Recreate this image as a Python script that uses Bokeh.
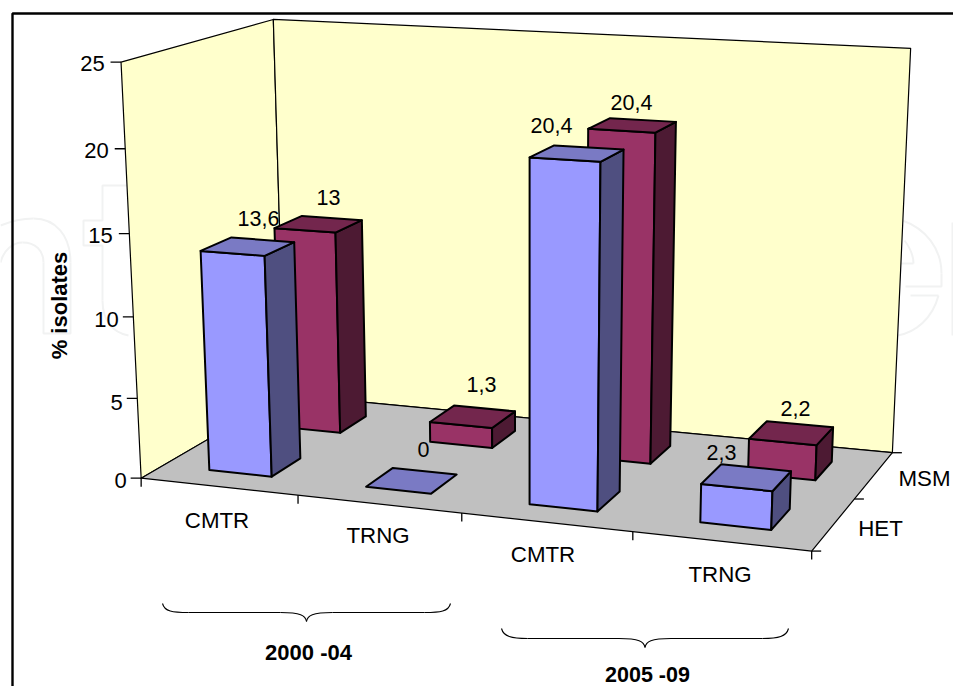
import numpy as np
from bokeh.plotting import figure
from bokeh.models import Range1d
from bokeh.core.properties import value
from bokeh.embed import file_html
from bokeh.resources import INLINE

categories = ["CMTR", "TRNG", "CMTR", "TRNG"]
periods = ["2000 -04", "2005 -09"]
series_names = ["HET", "MSM"]
het = [13.6, 0, 20.4, 2.3]
msm = [13, 1.3, 20.4, 2.2]
y_ticks = [0, 5, 10, 15, 20, 25]
y_title = "% isolates"

BLUE = ("#9999FF", "#7A7AC4", "#4F4F80")
RED = ("#993366", "#73264D", "#4D1A33")

# camera: calibration of the 3-D box (category, value, series) against the page
calib = [((0,0,0),(142,477)),((4,0,0),(810,551)),((4,0,2),(892,452)),((0,0,2),(283,394)),
         ((0,25,0),(120.5,61)),((0,25,2),(273.5,19.5)),((4,25,2),(910,48)),((0,5,0),(137,399)),
         ((0,10,0),(133,316)),((0,15,0),(128,233)),((0,20,0),(124.5,148)),((1,0,0),(297,495)),
         ((2,0,0),(462,513)),((3,0,0),(632,531)),((4,0,1),(855,498))]
A, b = [], []
for (x, y, z), (u, v) in calib:
    A.append([x,y,z,1,0,0,0,0,-u*x,-u*y,-u*z]); b.append(u)
    A.append([0,0,0,0,x,y,z,1,-v*x,-v*y,-v*z]); b.append(v)
P = np.append(np.linalg.lstsq(np.array(A,float), np.array(b,float), rcond=None)[0], 1).reshape(3,4)

def pr(x, y, z):
    h = P @ np.array([x, y, z, 1.0])
    return h[0]/h[2], h[1]/h[2]

p = figure(width=953, height=686, x_range=Range1d(0,953), y_range=Range1d(686,0),
           output_backend="svg", toolbar_location=None, min_border=0)
p.axis.visible = False
p.grid.visible = False
p.outline_line_color = None
p.background_fill_color = "white"

def poly(pts, fill, lc="black", lw=2.0):
    p.patch([q[0] for q in pts], [q[1] for q in pts], fill_color=fill, line_color=lc, line_width=lw, line_join="round")

def seg(a, b, lw=1.3):
    p.line([a[0], b[0]], [a[1], b[1]], line_color="black", line_width=lw)

# faint watermark letters behind the chart
WM = "#F1F2F2"
def wm_line(xs, ys):
    p.line(xs, ys, line_color=WM, line_width=2)
def wm_curve(a, c0, c1, e):
    p.bezier(x0=[a[0]], y0=[a[1]], x1=[e[0]], y1=[e[1]], cx0=[c0[0]], cy0=[c0[1]], cx1=[c1[0]], cy1=[c1[1]],
             line_color=WM, line_width=2)
wm_curve((0,225), (12,220), (22,218), (33,218))
wm_curve((33,218), (55,218), (70,235), (70,262))
wm_line([70,70,43,43], [262,333,333,262])
wm_curve((43,262), (43,250), (35,242), (22,242))
wm_curve((22,242), (12,242), (3,250), (0,262))
wm_line([128,102,102,83,83,102,102], [185,185,220,220,245,245,300])
wm_curve((102,300), (102,320), (112,332), (128,335))
wm_curve((902,220), (925,228), (941,248), (941,273))
wm_line([941,941,905], [273,286,286])
wm_line([913,900], [263,263])
wm_curve((904,240), (910,248), (913,256), (913,263))
wm_line([938,910], [295,295])
wm_curve((938,295), (932,318), (915,332), (897,335))
wm_line([952,952], [222,335])

# frame
p.line([12, 12, 953], [686, 13, 13], line_color="black", line_width=2.4)

# walls and floor
N = len(categories); D = len(series_names); T = y_ticks[-1]
poly([pr(0,0,0), pr(0,T,0), pr(0,T,D), pr(0,0,D)], "#FFFFCC", lw=1.2)
poly([pr(0,0,D), pr(0,T,D), pr(N,T,D), pr(N,0,D)], "#FFFFCC", lw=1.2)
poly([pr(0,0,0), pr(N,0,0), pr(N,0,D), pr(0,0,D)], "#C0C0C0", lw=1.2)

# ticks
for t in y_ticks:
    a = pr(0,t,0); seg((a[0]-10.5, a[1]), a)
for i in range(N+1):
    a = pr(i,0,0); seg(a, (a[0], a[1]+8.5))
for k in range(D+1):
    a = pr(N,0,k); seg(a, (a[0]+9.5, a[1]))

# bars
def bar(i, k, v, cols):
    x0, x1, z0, z1 = i+.30, i+.703, k+.285, k+.69
    if v > 0:
        poly([pr(x0,0,z0), pr(x1,0,z0), pr(x1,v,z0), pr(x0,v,z0)], cols[0])
        poly([pr(x1,0,z0), pr(x1,0,z1), pr(x1,v,z1), pr(x1,v,z0)], cols[2])
    poly([pr(x0,v,z0), pr(x1,v,z0), pr(x1,v,z1), pr(x0,v,z1)], cols[1])

for i, v in enumerate(msm):
    bar(i, 1, v, RED)
for i, v in enumerate(het):
    bar(i, 0, v, BLUE)

def txt(x, y, s, size=21.5, bold=False, angle=0, color="black"):
    p.text([x], [y], text=[s], text_font=value("Liberation Sans"), text_font_size=f"{size}px",
           text_font_style="bold" if bold else "normal", text_align="center", text_baseline="middle",
           angle=angle, text_color=color)

# data labels
het_lab = [(258,218), (423,449), (551,125), (721,452)]
msm_lab = [(328,197), (481,384), (631,102), (795,408)]
for v, q in zip(het, het_lab):
    txt(q[0], q[1], str(v).replace(".", ","))
for v, q in zip(msm, msm_lab):
    txt(q[0], q[1], str(v).replace(".", ","))

# tick labels
y_lab = [(120,480), (116,402), (106,319), (100,235), (96,150), (92,63)]
for t, q in zip(y_ticks, y_lab):
    txt(q[0], q[1], str(t), size=22)
cat_lab = [(216.5,520), (377.5,535), (542.5,554), (719.5,574)]
for c, q in zip(categories, cat_lab):
    txt(q[0], q[1], c, size=22.3)
ser_lab = [(880,528), (924,478)]
for c, q in zip(series_names, ser_lab):
    txt(q[0], q[1], c, size=22.3)

txt(59, 305, y_title, size=22, bold=True, angle=np.pi/2)

# braces
def brace(x0, x1, y0, y1, y2):
    m = (x0+x1)/2
    p.bezier(x0=[x0, m], y0=[y0, y2], x1=[x0+26, m+26], y1=[y1, y1],
             cx0=[x0+2, m+1], cy0=[y0+8, y1+3], cx1=[x0+10, m+6], cy1=[y1, y1], line_color="black", line_width=1.1)
    p.bezier(x0=[x1, m], y0=[y0, y2], x1=[x1-26, m-26], y1=[y1, y1],
             cx0=[x1-2, m-1], cy0=[y0+8, y1+3], cx1=[x1-10, m-6], cy1=[y1, y1], line_color="black", line_width=1.1)
    p.line([x0+26, m-26], [y1, y1], line_color="black", line_width=1.1)
    p.line([m+26, x1-26], [y1, y1], line_color="black", line_width=1.1)

brace(162, 450, 603, 612, 621)
brace(501, 788, 628, 638, 647)
txt(308, 652, periods[0], size=22, bold=True)
txt(647, 674, periods[1], size=21.5, bold=True)

open("out.html", "w").write(file_html(p, INLINE))
